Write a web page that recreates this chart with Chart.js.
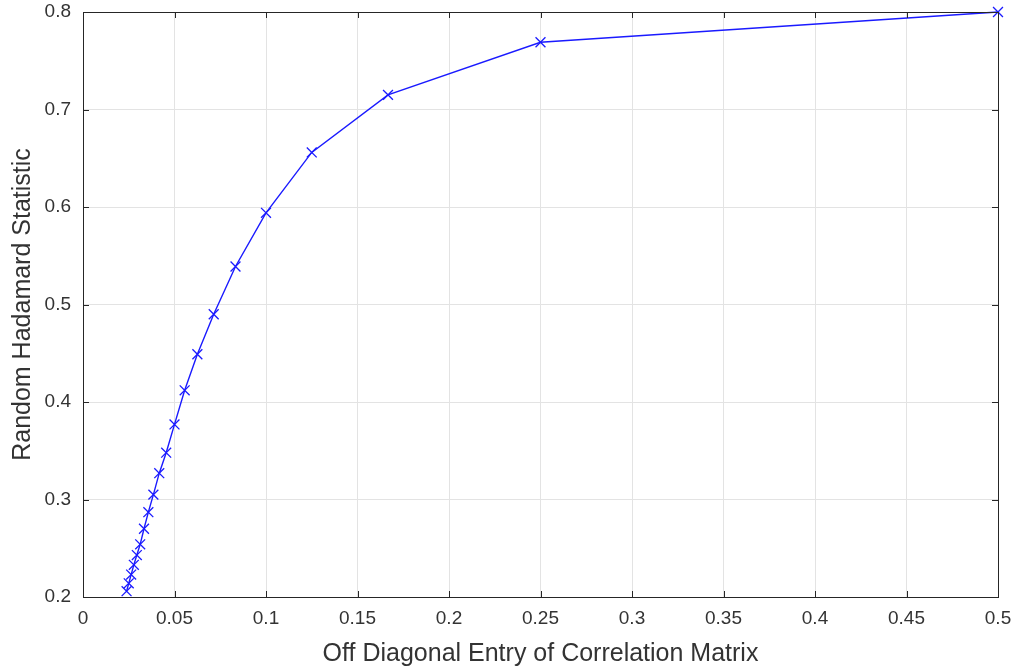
<!DOCTYPE html>
<html>
<head>
<meta charset="utf-8">
<script src="https://cdn.jsdelivr.net/npm/chart.js@4"></script>
<style>
  html, body { margin: 0; padding: 0; background: #fff; }
  #wrap { width: 1016px; height: 669px; }
</style>
</head>
<body>
<div id="wrap"><canvas id="chart" width="1016" height="669"></canvas></div>
<script>
// off diagonal entries (1/n for even n) and the statistic
const offDiag = [1/2, 1/4, 1/6, 1/8, 1/10, 1/12, 1/14, 1/16, 1/18, 1/20, 1/22,
                 1/24, 1/26, 1/28, 1/30, 1/32, 1/34, 1/36, 1/38, 1/40, 1/42];
const hadamard = [0.800, 0.769, 0.715, 0.656, 0.594, 0.539, 0.490, 0.449, 0.412, 0.377, 0.348,
                  0.327, 0.305, 0.287, 0.270, 0.254, 0.243, 0.233, 0.223, 0.214, 0.206];
const xTicks = [0, 0.05, 0.1, 0.15, 0.2, 0.25, 0.3, 0.35, 0.4, 0.45, 0.5];
const yTicks = [0.2, 0.3, 0.4, 0.5, 0.6, 0.7, 0.8];

const axisColor = '#333333';
const font = { family: 'Liberation Sans, Arial, sans-serif', size: 19 };
const titleFont = { family: 'Liberation Sans, Arial, sans-serif', size: 25 };

// matlab style box with inward ticks
const boxPlugin = {
    id: 'box',
    afterDraw(chart) {
        const { ctx, chartArea: a, scales } = chart;
        ctx.save();
        ctx.strokeStyle = '#262626';
        ctx.lineWidth = 1;
        ctx.strokeRect(Math.round(a.left) + 0.5, Math.round(a.top) + 0.5,
            Math.round(a.right - a.left), Math.round(a.bottom - a.top));
        const len = 6;
        ctx.beginPath();
        xTicks.forEach(v => {
            const x = Math.round(scales.x.getPixelForValue(v)) + 0.5;
            ctx.moveTo(x, a.bottom); ctx.lineTo(x, a.bottom - len);
            ctx.moveTo(x, a.top); ctx.lineTo(x, a.top + len);
        });
        yTicks.forEach(v => {
            const y = Math.round(scales.y.getPixelForValue(v)) + 0.5;
            ctx.moveTo(a.left, y); ctx.lineTo(a.left + len, y);
            ctx.moveTo(a.right, y); ctx.lineTo(a.right - len, y);
        });
        ctx.stroke();
        ctx.restore();
    }
};

new Chart(document.getElementById('chart'), {
    type: 'line',
    data: {
        datasets: [{
            data: offDiag.map((x, i) => ({ x: x, y: hadamard[i] })),
            borderColor: '#1a1aff',
            backgroundColor: '#1a1aff',
            borderWidth: 1.4,
            pointStyle: 'crossRot',
            pointRadius: 7,
            pointBorderWidth: 1.3,
            pointBorderColor: '#1a1aff',
            tension: 0,
            clip: 8
        }]
    },
    options: {
        responsive: false,
        animation: false,
        layout: { padding: { top: 12, right: 18, left: 0, bottom: 0 } },
        plugins: { legend: { display: false }, tooltip: { enabled: false } },
        scales: {
            x: {
                type: 'linear',
                min: 0, max: 0.5,
                afterBuildTicks: s => { s.ticks = xTicks.map(v => ({ value: v })); },
                afterFit: s => { s.height = 72; s.paddingLeft = 0; s.paddingRight = 0; },
                grid: { color: '#e3e3e3', drawTicks: false },
                border: { display: false },
                ticks: { color: axisColor, font: font, padding: 10, maxRotation: 0,
                         callback: v => String(v) },
                title: { display: true, text: 'Off Diagonal Entry of Correlation Matrix',
                         color: axisColor, font: titleFont, padding: { top: 4, bottom: 0 } }
            },
            y: {
                type: 'linear',
                min: 0.2, max: 0.8,
                afterBuildTicks: s => { s.ticks = yTicks.map(v => ({ value: v })); },
                afterFit: s => { s.width = 83; s.paddingTop = 0; s.paddingBottom = 0; },
                grid: { color: '#e3e3e3', drawTicks: false },
                border: { display: false },
                ticks: { color: axisColor, font: font, padding: 12,
                         callback: v => v.toFixed(1) },
                title: { display: true, text: 'Random Hadamard Statistic',
                         color: axisColor, font: titleFont, padding: { top: 8, bottom: 4 } }
            }
        }
    },
    plugins: [boxPlugin]
});
</script>
</body>
</html>
